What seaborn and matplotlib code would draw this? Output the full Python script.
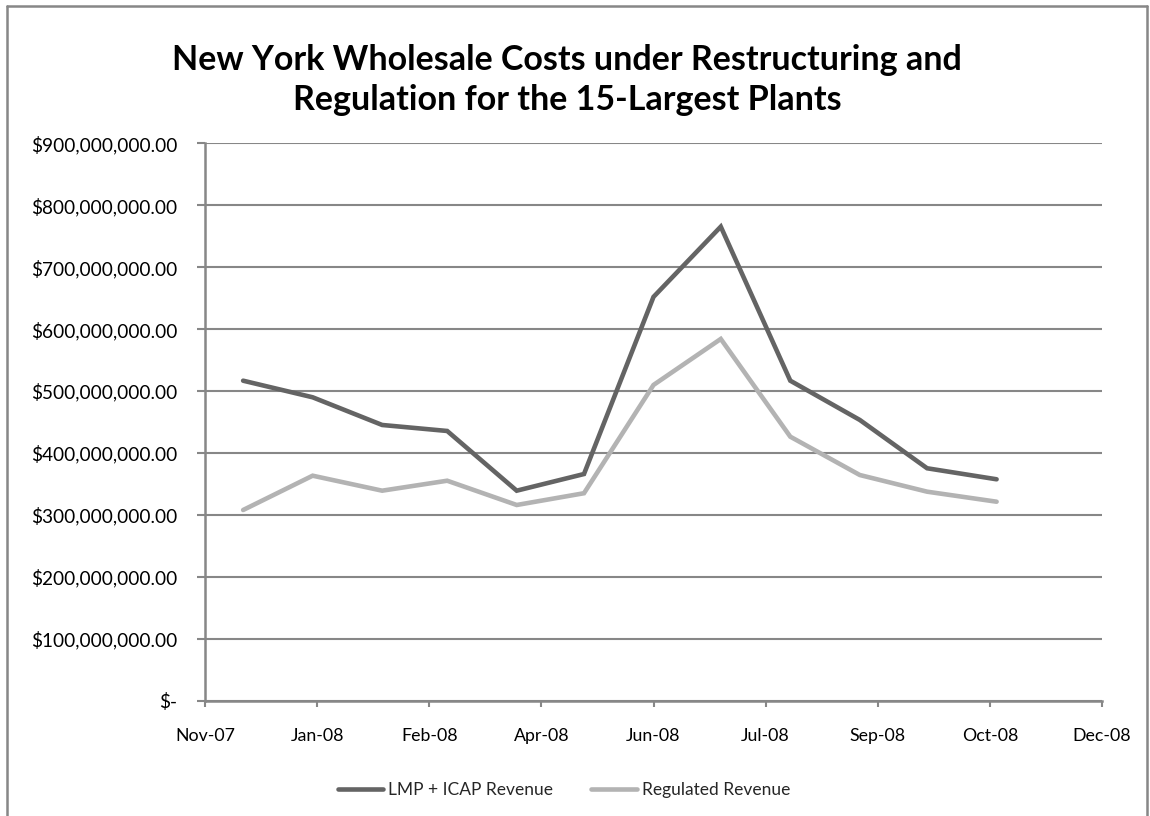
import matplotlib
matplotlib.use("Agg")
import matplotlib.pyplot as plt
import matplotlib.dates as mdates
from matplotlib.ticker import FuncFormatter, FixedLocator
from matplotlib.lines import Line2D
import seaborn as sns
import pandas as pd
import numpy as np

# ---- data (values in millions of dollars) ----
months = ["2007-12-01", "2008-01-01", "2008-02-01", "2008-03-01", "2008-04-01", "2008-05-01",
          "2008-06-01", "2008-07-01", "2008-08-01", "2008-09-01", "2008-10-01", "2008-11-01"]
lmp_icap_revenue = [516.7, 489.9, 445.2, 435.5, 339.1, 366.0, 652.0, 765.4, 516.7, 453.3, 375.3, 357.5]
regulated_revenue = [307.9, 363.3, 339.1, 355.2, 316.0, 335.0, 509.8, 584.1, 426.3, 364.4, 337.5, 321.3]
series_names = ["LMP + ICAP Revenue", "Regulated Revenue"]
x_tick_labels = ["Nov-07", "Jan-08", "Feb-08", "Apr-08", "Jun-08", "Jul-08", "Sep-08", "Oct-08", "Dec-08"]
y_ticks = [0, 100, 200, 300, 400, 500, 600, 700, 800, 900]
title = "New York Wholesale Costs under Restructuring and\nRegulation for the 15-Largest Plants"

axis_start = pd.Timestamp("2007-11-14")
tick_step_days = 50

df = pd.DataFrame({
    "date": pd.to_datetime(months * 2),
    "value": np.array(lmp_icap_revenue + regulated_revenue) * 1e6,
    "series": [series_names[0]] * len(months) + [series_names[1]] * len(months),
})

sns.set_theme(style="white")
plt.rcParams["font.family"] = ["Lato", "DejaVu Sans"]

GRID = "#878787"
colors = {series_names[0]: "#646464", series_names[1]: "#b3b3b3"}

fig = plt.figure(figsize=(11.5, 8.16), dpi=100)
ax = fig.add_axes([205 / 1150, 1 - 700.7 / 816, (1102 - 205) / 1150, (700.7 - 143.3) / 816])

sns.lineplot(data=df, x="date", y="value", hue="series", palette=colors, ax=ax,
             linewidth=3.3, legend=False, solid_capstyle="round", solid_joinstyle="miter")

tick_dates = [axis_start + pd.Timedelta(days=tick_step_days * i) for i in range(len(x_tick_labels))]
tick_nums = mdates.date2num(tick_dates)
ax.set_xlim(tick_nums[0], tick_nums[-1])
ax.xaxis.set_major_locator(FixedLocator(tick_nums))
ax.set_xticklabels(x_tick_labels)

ax.set_ylim(0, 900e6)
ax.set_yticks([v * 1e6 for v in y_ticks])

def money(v, pos):
    if v == 0:
        return "$-"
    return "${:,.2f}".format(v)

ax.yaxis.set_major_formatter(FuncFormatter(money))

ax.grid(axis="y", color=GRID, linewidth=1.5)
ax.grid(axis="x", visible=False)
ax.set_axisbelow(True)
for s in ["top", "right"]:
    ax.spines[s].set_visible(False)
for s in ["left", "bottom"]:
    ax.spines[s].set_color(GRID)
    ax.spines[s].set_linewidth(1.8)

ax.tick_params(axis="y", which="major", direction="out", length=6, width=1.5, color=GRID,
               labelsize=13.7, pad=14, left=True, labelcolor="black")
ax.tick_params(axis="x", which="major", direction="out", length=4.5, width=1.5, color=GRID,
               labelsize=12.8, pad=15, bottom=True, labelcolor="black")
ax.set_xlabel("")
ax.set_ylabel("")

fig.text(567 / 1150, 1 - 80 / 816, title, ha="center", va="center", fontsize=24.5,
         fontweight="bold", linespacing=1.3, color="black")

handles = [Line2D([0], [0], color=colors[n], linewidth=3.3, solid_capstyle="round") for n in series_names]
fig.legend(handles, series_names, loc="center", bbox_to_anchor=(564 / 1150, 1 - 790 / 816),
           ncol=2, frameon=False, fontsize=12.5, handlelength=2.6, handletextpad=0.3,
           columnspacing=2.2)

# outer chart-area border (cropped at bottom in the reference)
fig.add_artist(Line2D([7 / 1150, 7 / 1150], [0, 1 - 6 / 816], transform=fig.transFigure,
                      color=GRID, linewidth=1.8))
fig.add_artist(Line2D([7 / 1150, 1147 / 1150], [1 - 6 / 816, 1 - 6 / 816], transform=fig.transFigure,
                      color=GRID, linewidth=1.8))
fig.add_artist(Line2D([1147 / 1150, 1147 / 1150], [0, 1 - 6 / 816], transform=fig.transFigure,
                      color=GRID, linewidth=1.8))

fig.savefig("out.png", dpi=100, facecolor="white")
